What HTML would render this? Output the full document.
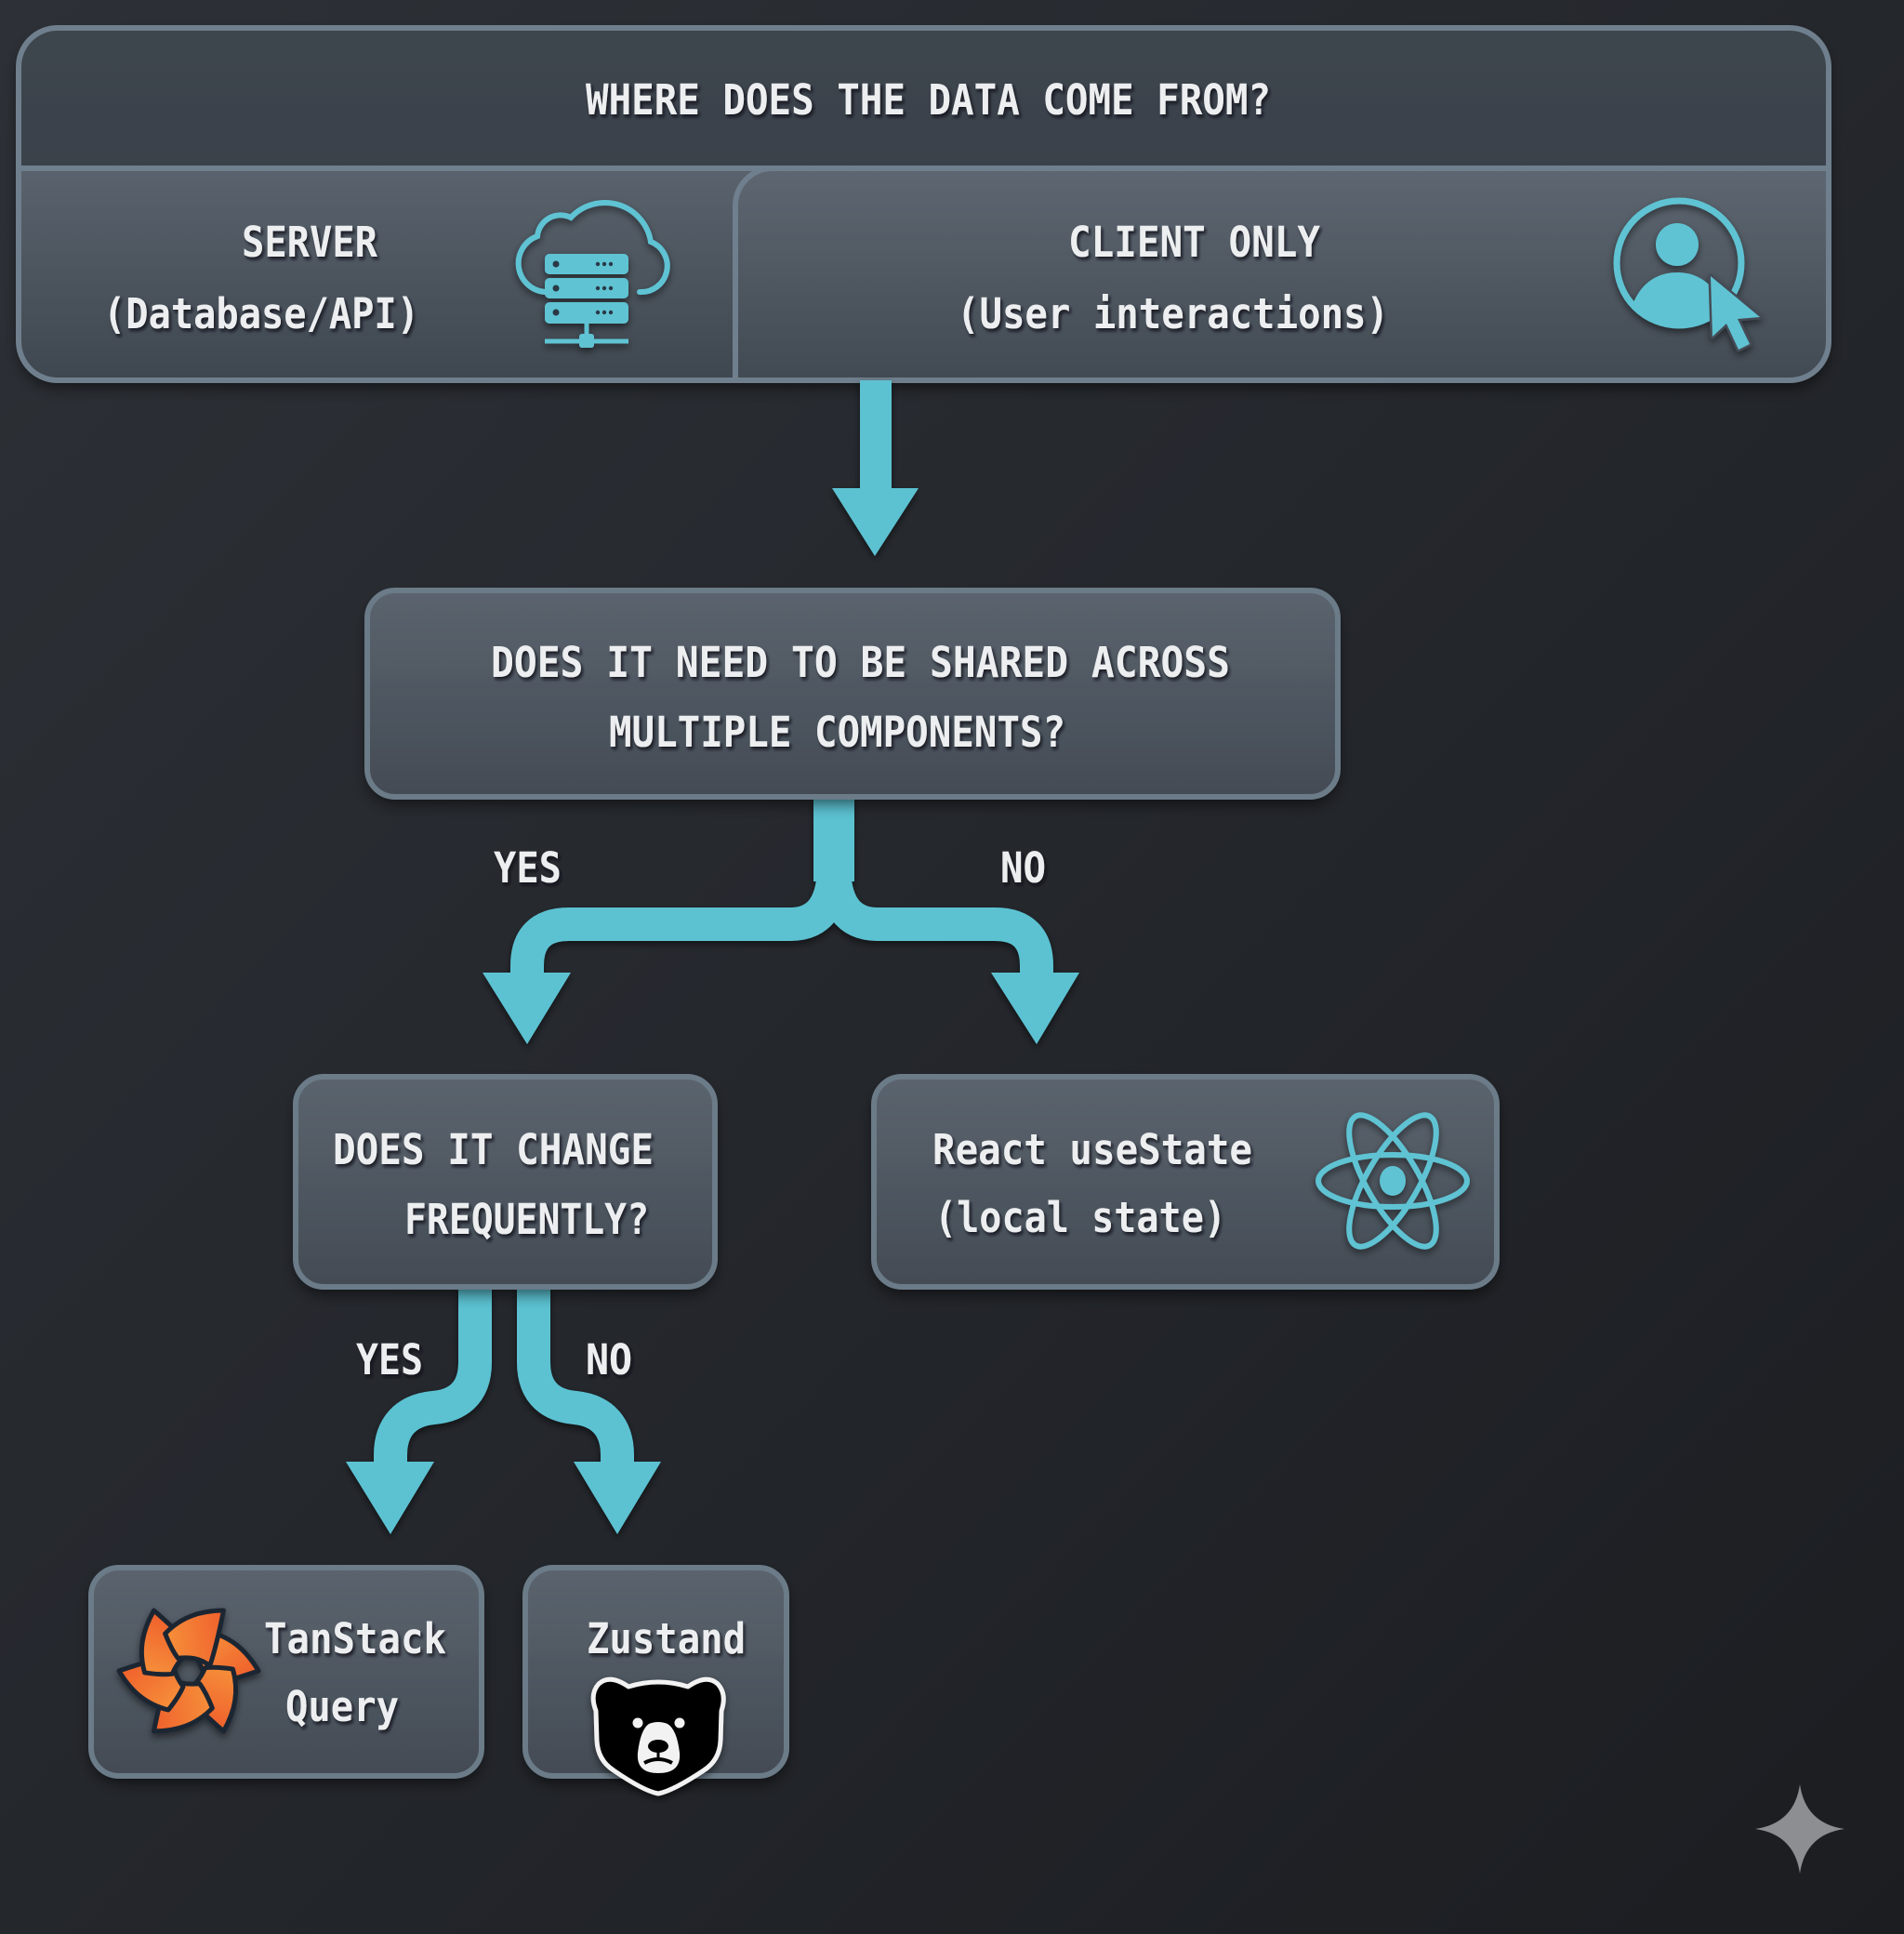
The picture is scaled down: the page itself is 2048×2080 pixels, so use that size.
<!DOCTYPE html>
<html>
<head>
<meta charset="utf-8">
<style>
html,body{margin:0;padding:0;background:#24272c;}
svg{display:block;}
.t{font-family:"DejaVu Sans Mono","Liberation Mono",monospace;font-weight:bold;font-size:45px;fill:#eceef0;}
</style>
</head>
<body>
<svg width="2048" height="2080" viewBox="0 0 2048 2080" xmlns="http://www.w3.org/2000/svg">
<defs>
  <linearGradient id="bg" x1="0" y1="0" x2="1" y2="1">
    <stop offset="0" stop-color="#2d3137"/>
    <stop offset="0.5" stop-color="#24272c"/>
    <stop offset="1" stop-color="#1b1d21"/>
  </linearGradient>
  <linearGradient id="hdr" x1="0" y1="0" x2="0" y2="1">
    <stop offset="0" stop-color="#3d454e"/>
    <stop offset="1" stop-color="#353c45"/>
  </linearGradient>
  <linearGradient id="low" x1="0" y1="0" x2="0" y2="1">
    <stop offset="0" stop-color="#5a636d"/>
    <stop offset="1" stop-color="#3e464f"/>
  </linearGradient>
  <linearGradient id="cli" x1="0" y1="0" x2="0" y2="1">
    <stop offset="0" stop-color="#5e6771"/>
    <stop offset="1" stop-color="#414952"/>
  </linearGradient>
  <linearGradient id="boxg" x1="0" y1="0" x2="0" y2="1">
    <stop offset="0" stop-color="#5b646e"/>
    <stop offset="1" stop-color="#434b54"/>
  </linearGradient>
  <linearGradient id="org" x1="0" y1="0" x2="1" y2="1">
    <stop offset="0" stop-color="#f7973d"/>
    <stop offset="1" stop-color="#ee5628"/>
  </linearGradient>
  <clipPath id="topclip">
    <rect x="20" y="30" width="1947" height="379" rx="42"/>
  </clipPath>
  <clipPath id="ringclip">
    <circle cx="1806" cy="283" r="64"/>
  </clipPath>
  <filter id="sh" x="-10%" y="-10%" width="120%" height="130%">
    <feDropShadow dx="0" dy="8" stdDeviation="8" flood-color="#000" flood-opacity="0.55"/>
  </filter>
  <filter id="ash" x="-20%" y="-20%" width="140%" height="140%">
    <feDropShadow dx="0" dy="4" stdDeviation="4" flood-color="#000" flood-opacity="0.5"/>
  </filter>
  <filter id="tsh" x="-5%" y="-30%" width="110%" height="160%">
    <feDropShadow dx="2" dy="3" stdDeviation="1.5" flood-color="#0d0f12" flood-opacity="0.85"/>
  </filter>
</defs>

<!-- background -->
<rect x="0" y="0" width="2048" height="2080" fill="url(#bg)"/>

<!-- TOP BOX -->
<g filter="url(#sh)">
  <rect x="20" y="30" width="1947" height="379" rx="42" fill="url(#hdr)"/>
</g>
<g clip-path="url(#topclip)">
  <rect x="20" y="181" width="1947" height="230" fill="url(#low)"/>
  <path d="M 791 412 V 221 A 40 40 0 0 1 831 181 H 1970 V 412 Z" fill="url(#cli)"/>
</g>
<line x1="20" y1="181" x2="1967" y2="181" stroke="#6f7f8d" stroke-width="6"/>
<path d="M 791 409 V 221 A 40 40 0 0 1 831 181" fill="none" stroke="#6f7f8d" stroke-width="6"/>
<rect x="20" y="30" width="1947" height="379" rx="42" fill="none" stroke="#6f7f8d" stroke-width="6"/>

<!-- cloud server icon -->
<g filter="url(#ash)">
  <path d="M 586 314 A 31 31 0 0 1 578 254 A 25 25 0 0 1 614 234 A 50 50 0 0 1 700 260 A 28 28 0 0 1 688 314" fill="none" stroke="#5ec3d3" stroke-width="6" stroke-linecap="round"/>
  <rect x="586" y="273" width="90" height="22" rx="5" fill="#5ec3d3"/>
  <rect x="586" y="299" width="90" height="22" rx="5" fill="#5ec3d3"/>
  <rect x="586" y="325" width="90" height="23" rx="5" fill="#5ec3d3"/>
  <g fill="#2b3945">
    <circle cx="598" cy="284" r="3.5"/><circle cx="598" cy="310" r="3.5"/><circle cx="598" cy="336" r="3.5"/>
    <circle cx="643" cy="284" r="2.2"/><circle cx="650" cy="284" r="2.2"/><circle cx="657" cy="284" r="2.2"/>
    <circle cx="643" cy="310" r="2.2"/><circle cx="650" cy="310" r="2.2"/><circle cx="657" cy="310" r="2.2"/>
    <circle cx="643" cy="336" r="2.2"/><circle cx="650" cy="336" r="2.2"/><circle cx="657" cy="336" r="2.2"/>
  </g>
  <line x1="631" y1="348" x2="631" y2="362" stroke="#5ec3d3" stroke-width="5"/>
  <line x1="586" y1="367" x2="676" y2="367" stroke="#5ec3d3" stroke-width="5"/>
  <rect x="623" y="359" width="16" height="15" rx="3" fill="#5ec3d3"/>
</g>

<!-- user icon -->
<g filter="url(#ash)">
  <circle cx="1806" cy="283" r="67" fill="none" stroke="#5ec3d3" stroke-width="7"/>
  <circle cx="1804" cy="263" r="23" fill="#5ec3d3"/>
  <path d="M 1750 360 C 1752 315, 1774 293, 1804 293 C 1834 293, 1856 315, 1858 360 Z" fill="#5ec3d3" clip-path="url(#ringclip)"/>
  <path d="M 1840 297 L 1842 362 L 1857 348 L 1870 376 L 1882 370 L 1869 343 L 1893 341 Z" fill="#5ec3d3" stroke="#444c56" stroke-width="5" stroke-linejoin="round" paint-order="stroke"/>
</g>

<!-- top texts -->
<g filter="url(#tsh)">
  <text class="t" x="630" y="123" textLength="737" lengthAdjust="spacingAndGlyphs">WHERE DOES THE DATA COME FROM?</text>
  <text class="t" x="260" y="276" textLength="146" lengthAdjust="spacingAndGlyphs">SERVER</text>
  <text class="t" x="111" y="353" textLength="340" lengthAdjust="spacingAndGlyphs">(Database/API)</text>
  <text class="t" x="1149" y="276" textLength="271" lengthAdjust="spacingAndGlyphs">CLIENT ONLY</text>
  <text class="t" x="1029" y="353" textLength="465" lengthAdjust="spacingAndGlyphs">(User interactions)</text>
</g>

<!-- ARROWS -->
<g filter="url(#ash)" fill="#5cc2d2">
  <rect x="925" y="409" width="34" height="120"/>
  <polygon points="895,525 988,525 941,598"/>
  <rect x="875" y="858" width="44" height="90"/>
  <path d="M 897 930 Q 897 994 850 994 H 612 Q 567 994 567 1039 V 1052" fill="none" stroke="#5cc2d2" stroke-width="36"/>
  <path d="M 897 930 Q 897 994 944 994 H 1070 Q 1115 994 1115 1039 V 1052" fill="none" stroke="#5cc2d2" stroke-width="36"/>
  <polygon points="519,1046 614,1046 567,1123"/>
  <polygon points="1066,1046 1161,1046 1115,1123"/>
  <path d="M 511 1385 V 1465 C 511 1500, 490 1512, 466 1514 C 436 1517, 420 1535, 420 1565 V 1578" fill="none" stroke="#5cc2d2" stroke-width="36"/>
  <path d="M 574 1385 V 1465 C 574 1500, 595 1512, 619 1514 C 648 1517, 664 1535, 664 1565 V 1578" fill="none" stroke="#5cc2d2" stroke-width="36"/>
  <polygon points="372,1572 467,1572 420,1650"/>
  <polygon points="617,1572 711,1572 664,1650"/>
</g>

<!-- BOXES -->
<g filter="url(#sh)">
  <rect x="395" y="635" width="1044" height="222" rx="30" fill="url(#boxg)"/>
  <rect x="318" y="1158" width="451" height="226" rx="30" fill="url(#boxg)"/>
  <rect x="940" y="1158" width="670" height="226" rx="30" fill="url(#boxg)"/>
  <rect x="98" y="1686" width="420" height="224" rx="30" fill="url(#boxg)"/>
  <rect x="565" y="1686" width="281" height="224" rx="30" fill="url(#boxg)"/>
</g>
<g fill="none" stroke="#6b7b88" stroke-width="6">
  <rect x="395" y="635" width="1044" height="222" rx="30"/>
  <rect x="318" y="1158" width="451" height="226" rx="30"/>
  <rect x="940" y="1158" width="670" height="226" rx="30"/>
  <rect x="98" y="1686" width="420" height="224" rx="30"/>
  <rect x="565" y="1686" width="281" height="224" rx="30"/>
</g>

<!-- react atom -->
<g filter="url(#ash)" fill="none" stroke="#5ec3d3" stroke-width="6">
  <ellipse cx="1498" cy="1270" rx="80" ry="28"/>
  <ellipse cx="1498" cy="1270" rx="80" ry="28" transform="rotate(60 1498 1270)"/>
  <ellipse cx="1498" cy="1270" rx="80" ry="28" transform="rotate(120 1498 1270)"/>
  <ellipse cx="1498" cy="1270" rx="14" ry="16" fill="#5ec3d3" stroke="none"/>
</g>

<!-- tanstack logo -->
<g filter="url(#ash)" transform="translate(203 1797)">
  <g fill="url(#org)" stroke="#1d2633" stroke-width="5" stroke-linejoin="round">
    <path id="pt" d="M 75 0 C 62 -22, 46 -36, 22 -42 C 14 -32, 9 -24, 6 -17 C 14 -6, 18 4, 16 17 C 40 12, 60 5, 75 0 Z"/>
    <path d="M 75 0 C 62 -22, 46 -36, 22 -42 C 14 -32, 9 -24, 6 -17 C 14 -6, 18 4, 16 17 C 40 12, 60 5, 75 0 Z" transform="rotate(60)"/>
    <path d="M 75 0 C 62 -22, 46 -36, 22 -42 C 14 -32, 9 -24, 6 -17 C 14 -6, 18 4, 16 17 C 40 12, 60 5, 75 0 Z" transform="rotate(120)"/>
    <path d="M 75 0 C 62 -22, 46 -36, 22 -42 C 14 -32, 9 -24, 6 -17 C 14 -6, 18 4, 16 17 C 40 12, 60 5, 75 0 Z" transform="rotate(180)"/>
    <path d="M 75 0 C 62 -22, 46 -36, 22 -42 C 14 -32, 9 -24, 6 -17 C 14 -6, 18 4, 16 17 C 40 12, 60 5, 75 0 Z" transform="rotate(240)"/>
    <path d="M 75 0 C 62 -22, 46 -36, 22 -42 C 14 -32, 9 -24, 6 -17 C 14 -6, 18 4, 16 17 C 40 12, 60 5, 75 0 Z" transform="rotate(300)"/>
  </g>
</g>

<!-- bear -->
<g filter="url(#ash)">
  <path d="M 708 1929 Q 692 1926 660 1904 Q 643 1893 642 1872 L 641 1840 Q 634 1822 644 1811 Q 656 1800 676 1814 Q 708 1804 740 1814 Q 760 1800 772 1811 Q 782 1822 776 1840 L 775 1872 Q 774 1893 757 1904 Q 724 1926 708 1929 Z" fill="#050505" stroke="#f2f2f2" stroke-width="5" stroke-linejoin="round"/>
  <circle cx="686" cy="1853" r="5.5" fill="#f2f2f2"/>
  <circle cx="731" cy="1853" r="5.5" fill="#f2f2f2"/>
  <path d="M 698 1854 Q 708 1850 718 1854 Q 728 1860 731 1885 Q 733 1907 708 1907 Q 684 1907 686 1885 Q 689 1860 698 1854 Z" fill="#f2f2f2"/>
  <ellipse cx="708" cy="1878" rx="11" ry="7" fill="#050505"/>
  <line x1="708" y1="1883" x2="708" y2="1892" stroke="#050505" stroke-width="3"/>
  <path d="M 693 1896 Q 708 1888 723 1896" fill="none" stroke="#050505" stroke-width="4"/>
</g>

<!-- texts -->
<g filter="url(#tsh)">
  <text class="t" x="528" y="728" textLength="795" lengthAdjust="spacingAndGlyphs">DOES IT NEED TO BE SHARED ACROSS</text>
  <text class="t" x="655" y="803" textLength="491" lengthAdjust="spacingAndGlyphs">MULTIPLE COMPONENTS?</text>
  <text class="t" x="531" y="949" textLength="73" lengthAdjust="spacingAndGlyphs">YES</text>
  <text class="t" x="1076" y="949" textLength="49" lengthAdjust="spacingAndGlyphs">NO</text>
  <text class="t" x="358" y="1252" textLength="345" lengthAdjust="spacingAndGlyphs">DOES IT CHANGE</text>
  <text class="t" x="435" y="1327" textLength="263" lengthAdjust="spacingAndGlyphs">FREQUENTLY?</text>
  <text class="t" x="1003" y="1252" textLength="344" lengthAdjust="spacingAndGlyphs">React useState</text>
  <text class="t" x="1005" y="1325" textLength="314" lengthAdjust="spacingAndGlyphs">(local state)</text>
  <text class="t" x="383" y="1478" textLength="72" lengthAdjust="spacingAndGlyphs">YES</text>
  <text class="t" x="630" y="1478" textLength="50" lengthAdjust="spacingAndGlyphs">NO</text>
  <text class="t" x="284" y="1778" textLength="196" lengthAdjust="spacingAndGlyphs">TanStack</text>
  <text class="t" x="307" y="1851" textLength="122" lengthAdjust="spacingAndGlyphs">Query</text>
  <text class="t" x="631" y="1778" textLength="171" lengthAdjust="spacingAndGlyphs">Zustand</text>
</g>

<!-- sparkle -->
<path d="M 1936 1919 Q 1942 1961 1984 1967 Q 1942 1973 1936 2015 Q 1930 1973 1888 1967 Q 1930 1961 1936 1919 Z" fill="#8d8e92"/>
</svg>
</body>
</html>
